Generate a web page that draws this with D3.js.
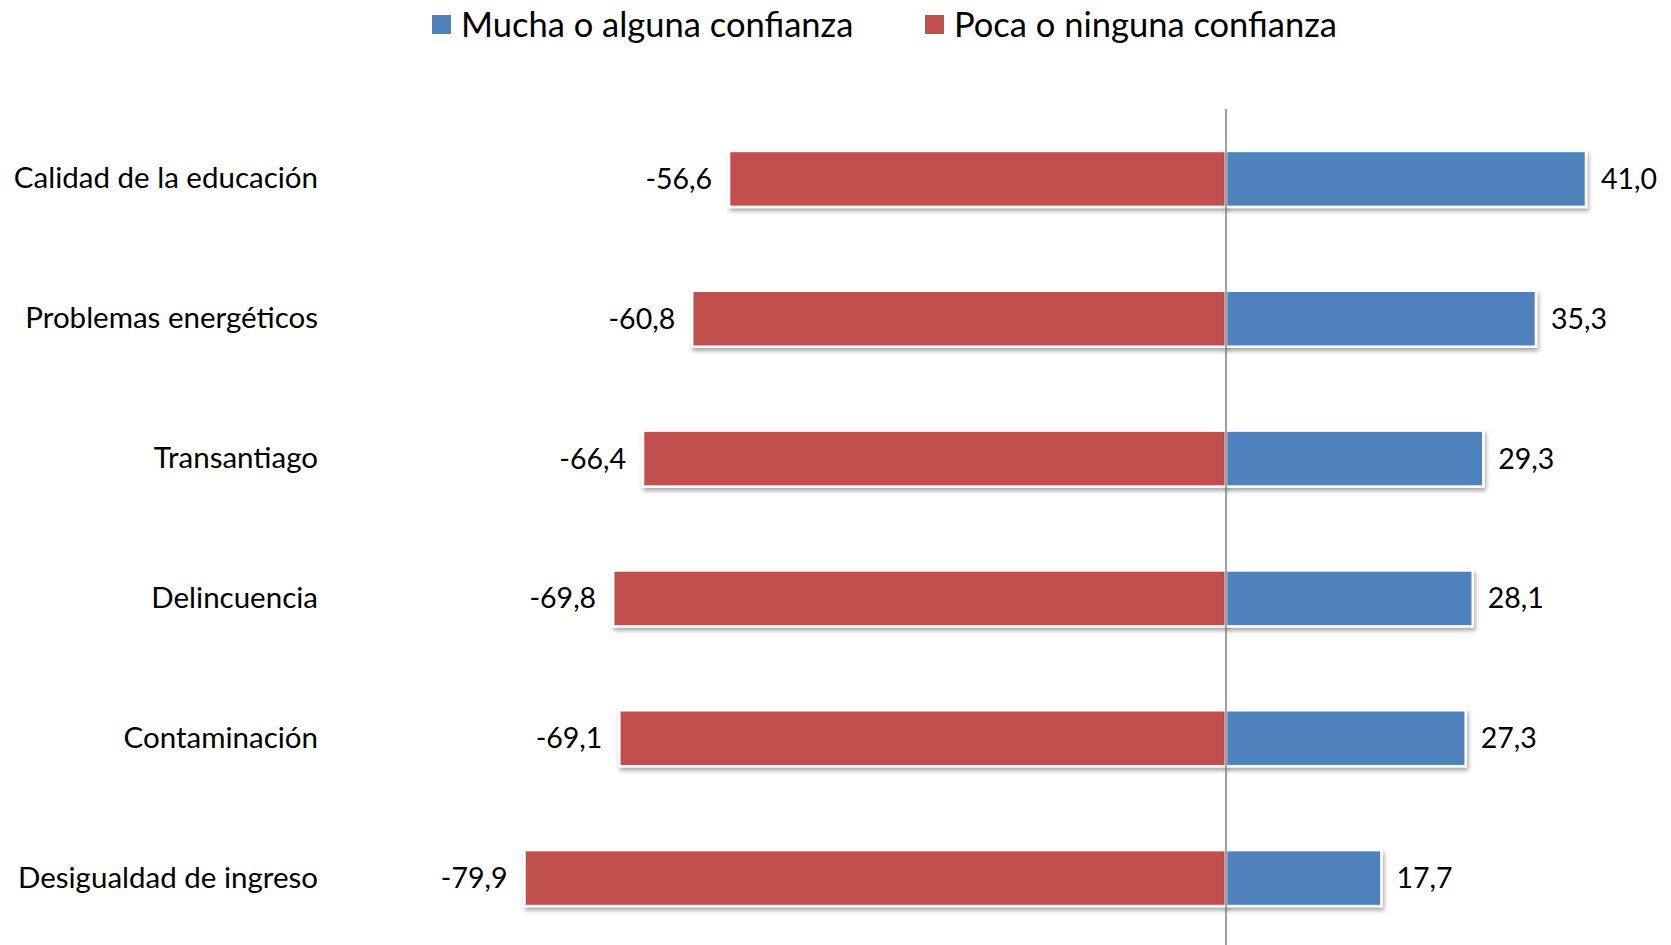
<!DOCTYPE html>
<html>
<head>
<meta charset="utf-8">
<script src="https://cdn.jsdelivr.net/npm/d3@7"></script>
<style>
  html, body { margin: 0; padding: 0; background: #fff; }
  svg { display: block; }
  text { font-family: Lato, "Open Sans", sans-serif; fill: #000; }
</style>
</head>
<body>
<svg id="chart" width="1671" height="945"></svg>
<script>
const categories = ["Calidad de la educación", "Problemas energéticos", "Transantiago", "Delincuencia", "Contaminación", "Desigualdad de ingreso"];
const muchaValues = [41.0, 35.3, 29.3, 28.1, 27.3, 17.7];
const pocaValues = [-56.6, -60.8, -66.4, -69.8, -69.1, -79.9];
const seriesNames = ["Mucha o alguna confianza", "Poca o ninguna confianza"];
const seriesColors = ["#4F81BD", "#C0504D"];

const W = 1671, H = 945;
const svg = d3.select("#chart");

const defs = svg.append("defs");
const f = defs.append("filter").attr("id", "shadow").attr("x", "-5%").attr("y", "-20%").attr("width", "112%").attr("height", "160%");
f.append("feDropShadow").attr("dx", 1.5).attr("dy", 3).attr("stdDeviation", 2)
  .attr("flood-color", "#000").attr("flood-opacity", 0.35);

const x = d3.scaleLinear().domain([-100, 50]).range([348, 1665]);
const y = d3.scaleBand().domain(categories).range([109, 948]).paddingInner(0.6).paddingOuter(0.3);

const locale = d3.formatLocale({decimal: ",", thousands: ".", grouping: [3], currency: ["", ""], minus: "-"});
const fmt = locale.format(".1f");

const rows = categories.map((c, i) => ({cat: c, mucha: muchaValues[i], poca: pocaValues[i]}));

const bars = svg.append("g");
bars.selectAll("rect.poca").data(rows).join("rect")
  .attr("class", "poca")
  .attr("x", d => x(d.poca))
  .attr("y", d => y(d.cat))
  .attr("width", d => x(0) - x(d.poca))
  .attr("height", y.bandwidth())
  .attr("fill", seriesColors[1])
  .attr("stroke", "#fff").attr("stroke-width", 2.5)
  .attr("filter", "url(#shadow)");
bars.selectAll("rect.mucha").data(rows).join("rect")
  .attr("class", "mucha")
  .attr("x", x(0))
  .attr("y", d => y(d.cat))
  .attr("width", d => x(d.mucha) - x(0))
  .attr("height", y.bandwidth())
  .attr("fill", seriesColors[0])
  .attr("stroke", "#fff").attr("stroke-width", 2.5)
  .attr("filter", "url(#shadow)");

svg.append("line")
  .attr("x1", x(0)).attr("x2", x(0))
  .attr("y1", 109).attr("y2", H)
  .attr("stroke", "#808080").attr("stroke-width", 1.5);

const labels = svg.append("g").style("font-size", "28.5px");
labels.selectAll("text.pl").data(rows).join("text")
  .attr("x", d => x(d.poca) - 17)
  .attr("y", d => y(d.cat) + y.bandwidth() / 2)
  .attr("dy", "0.35em")
  .attr("text-anchor", "end")
  .text(d => fmt(d.poca));
labels.selectAll("text.ml").data(rows).join("text")
  .attr("x", d => x(d.mucha) + 15)
  .attr("y", d => y(d.cat) + y.bandwidth() / 2)
  .attr("dy", "0.35em")
  .attr("text-anchor", "start")
  .text(d => fmt(d.mucha));

const yAxis = d3.axisLeft(y).tickSize(0).tickPadding(0);
const gy = svg.append("g").attr("transform", "translate(318,0)").call(yAxis);
gy.select(".domain").remove();
gy.selectAll("text").style("font-size", "29.5px").style("font-family", "Lato, 'Open Sans', sans-serif").attr("fill", "#000");

const legend = svg.append("g").style("font-size", "34.5px");
const legX = [432, 925];
seriesNames.forEach((name, i) => {
  const g = legend.append("g").attr("transform", `translate(${legX[i]},0)`);
  g.append("rect").attr("x", 0).attr("y", 15).attr("width", 19).attr("height", 19).attr("fill", seriesColors[i]);
  g.append("text").attr("x", 29).attr("y", 25).attr("dy", "0.35em").text(name);
});
</script>
</body>
</html>
